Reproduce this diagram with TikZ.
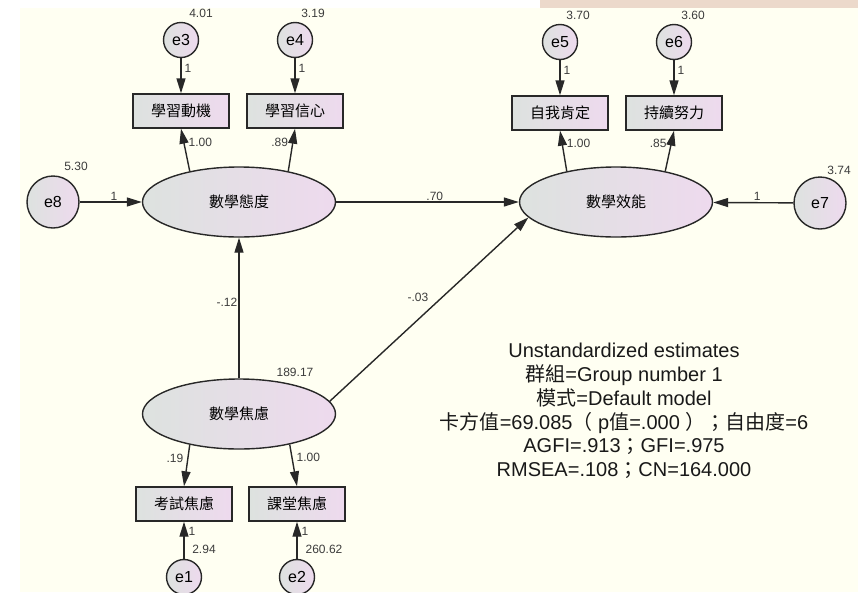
\documentclass[tikz,border=0pt]{standalone}
\usepackage{fontspec}
\setmainfont{Liberation Sans}
\newfontfamily\cjk{Noto Sans CJK TC}
\usetikzlibrary{arrows.meta,shapes}
\newcommand{\zhtxt}[1]{{\cjk #1}}
\definecolor{fondCreme}{RGB}{255,255,242}
\definecolor{bandeBeige}{RGB}{236,217,203}
\definecolor{monGris}{RGB}{221,226,223}
\definecolor{monRose}{RGB}{238,218,238}
\definecolor{trait}{RGB}{40,40,40}
\definecolor{chiffre}{RGB}{60,60,60}
\tikzstyle{obs} = [draw=trait, rectangle, left color=monGris, right color=monRose, minimum height=34pt, minimum width=96pt, line width=1.4pt, font=\cjk\fontsize{15}{15}\selectfont]
\tikzstyle{latent} = [draw=trait, ellipse, left color=monGris, right color=monRose, minimum height=70pt, minimum width=193pt, inner sep=0pt, line width=1.4pt, font=\cjk\fontsize{15}{15}\selectfont]
\tikzstyle{erreur} = [draw=trait, circle, left color=monGris, right color=monRose, minimum size=35pt, inner sep=0pt, line width=1.4pt, font=\fontsize{16}{16}\selectfont]
\tikzstyle{erreur_2} = [erreur, minimum size=52pt]
\tikzstyle{estim} = [font=\fontsize{12}{12}\selectfont, text=chiffre, inner sep=1pt]
\tikzstyle{fleche} = [->, color=trait, line width=1.4pt]
\tikzstyle{bilan} = [align=center, text=black!90, font=\fontsize{20}{23.7}\selectfont]

\begin{document}
\begin{tikzpicture}[x=1pt, y=-1pt, >={Triangle[length=15pt,width=9pt]}]
    \useasboundingbox (0,0) rectangle (858,592);
    \fill[fondCreme] (20,8) rectangle (858,592);
    \fill[bandeBeige] (540,0) rectangle (858,8);

    % variables latentes
    \node [latent] (attitude) at (239,202) {數學態度};
    \node [latent] (efficacite) at (616,202) {數學效能};
    \node [latent] (anxiete) at (239,414) {數學焦慮};

    % indicateurs
    \node [obs] (motivation) at (181,111) {學習動機};
    \node [obs] (confiance) at (295,111) {學習信心};
    \node [obs] (affirmation) at (560,113) {自我肯定};
    \node [obs] (effort) at (674,113) {持續努力};
    \node [obs] (examen) at (184,504) {考試焦慮};
    \node [obs] (classe) at (297,504) {課堂焦慮};

    % erreurs
    \node [erreur] (e3) at (181,40) {e3};
    \node [erreur] (e4) at (295,40) {e4};
    \node [erreur] (e5) at (560,42) {e5};
    \node [erreur] (e6) at (674,42) {e6};
    \node [erreur] (e1) at (184,577) {e1};
    \node [erreur] (e2) at (297,577) {e2};
    \node [erreur_2] (e8) at (53,202) {e8};
    \node [erreur_2] (e7) at (820,203) {e7};

    % variances
    \node [estim] (v3) at (201,13) {4.01};
    \node [estim] (v4) at (313,13) {3.19};
    \node [estim] (v5) at (578,15) {3.70};
    \node [estim] (v6) at (693,15) {3.60};
    \node [estim] (v8) at (76,166) {5.30};
    \node [estim] (v7) at (839,170) {3.74};
    \node [estim] (vAnx) at (295,372) {189.17};
    \node [estim] (v1) at (204,549) {2.94};
    \node [estim] (v2) at (324,549) {260.62};

    \path[fleche]
     (e3) edge node[estim,right,pos=0.3,xshift=2pt] {1} (motivation)
     (e4) edge node[estim,right,pos=0.3,xshift=2pt] {1} (confiance)
     (e5) edge node[estim,right,pos=0.3,xshift=2pt] {1} (affirmation)
     (e6) edge node[estim,right,pos=0.3,xshift=2pt] {1} (effort)
     (e1) edge node[estim,right,pos=0.73,xshift=3pt] {1} (examen)
     (e2) edge node[estim,right,pos=0.73,xshift=3pt] {1} (classe)
     (attitude.148) edge node[estim,right,pos=0.67,xshift=3pt] {1.00} (motivation.south)
     (attitude.32) edge node[estim,left,pos=0.67,xshift=-3pt] {.89} (confiance.south)
     (efficacite.148) edge node[estim,right,pos=0.68,xshift=3pt] {1.00} (affirmation.south)
     (efficacite.32) edge node[estim,left,pos=0.68,xshift=-3pt] {.85} (effort.south)
     (anxiete.212) edge node[estim,left,pos=0.32,xshift=-3pt] {.19} (examen.north)
     (anxiete.329) edge node[estim,right,pos=0.32,xshift=3pt] {1.00} (classe.north)
     (e8) edge node[estim,above,pos=0.55] {1} (attitude)
     (e7) edge node[estim,above,pos=0.45] {1} (efficacite)
     (attitude) edge node[estim,above,pos=0.54] {.70} (efficacite)
     (anxiete) edge node[estim,left,pos=0.54] {-.12} (attitude)
     (anxiete.8) edge node[estim,left,pos=0.565,xshift=-12pt] {-.03} (efficacite.190);

    \node [bilan] (resultats) at (624,411) {Unstandardized estimates\\
      \zhtxt{群組}=Group number 1\\
      \zhtxt{模式}=Default model\\
      \zhtxt{卡方值}=69.085\zhtxt{（} p\zhtxt{值}=.000 \zhtxt{）；自由度}=6\\
      AGFI=.913\zhtxt{；}GFI=.975\\
      RMSEA=.108\zhtxt{；}CN=164.000};
\end{tikzpicture}
\end{document}
